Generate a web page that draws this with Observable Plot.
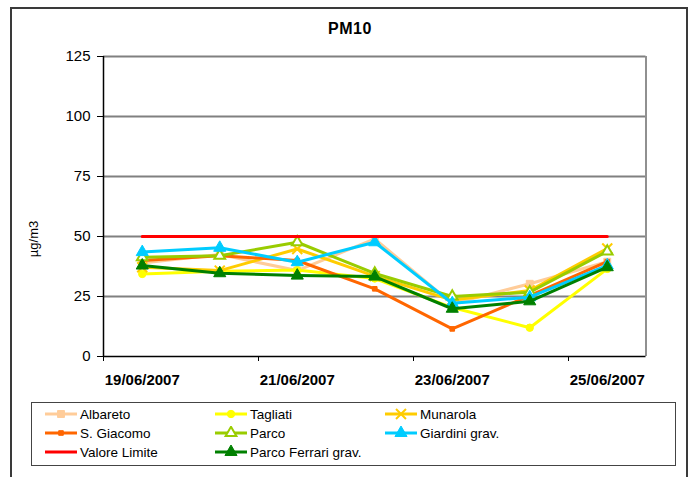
<!DOCTYPE html>
<html>
<head>
<meta charset="utf-8">
<script src="https://cdn.jsdelivr.net/npm/d3@7"></script>
<script src="https://cdn.jsdelivr.net/npm/@observablehq/plot@0.6"></script>
<style>
  html, body { margin: 0; padding: 0; background: #fff; }
  body { width: 689px; height: 477px; position: relative; overflow: hidden; font-family: "Liberation Sans", Arial, sans-serif; }
  #frame { position: absolute; left: 10px; top: 7px; width: 674px; height: 480px; border: 2px solid #3a3a3a; box-sizing: content-box; }
  #chart { position: absolute; left: 0; top: 0; }
  #title { position: absolute; left: 250px; width: 200px; top: 20px; text-align: center; font-weight: bold; font-size: 16px; letter-spacing: 0.5px; }
  #ylabel { position: absolute; left: 33px; top: 239px; transform: translate(-50%, -50%) rotate(-90deg); font-size: 13px; white-space: nowrap; }
  #legend { position: absolute; left: 31px; top: 402px; width: 645px; height: 64px; border: 1px solid #444; box-sizing: border-box; }
  .item { position: absolute; display: flex; align-items: center; font-size: 13.5px; white-space: nowrap; height: 18px; }
  .item svg { margin-right: 2px; }
</style>
</head>
<body>
<div id="frame"></div>
<div id="chart"></div>
<div id="title">PM10</div>
<div id="ylabel">µg/m3</div>
<div id="legend"></div>
<script>
// ---- data ----
const dates = ["19/06/2007", "20/06/2007", "21/06/2007", "22/06/2007", "23/06/2007", "24/06/2007", "25/06/2007"];
const labelledDates = ["19/06/2007", "21/06/2007", "23/06/2007", "25/06/2007"];
const yTicks = [0, 25, 50, 75, 100, 125];

const albareto     = [39.0, 42.5, 35.8, 49.0, 22.0, 30.3, 39.5];
const tagliati     = [34.4, 35.5, 36.0, 32.5, 20.4, 12.0, 36.5];
const munarola     = [37.2, 35.8, 44.8, 33.5, 23.5, 27.5, 45.0];
const sGiacomo     = [40.0, 42.0, 40.0, 28.2, 11.5, 25.4, 39.5];
const parco        = [41.4, 42.0, 47.6, 34.6, 25.0, 26.8, 43.8];
const giardini     = [43.5, 45.3, 39.3, 47.6, 22.2, 24.7, 38.0];
const valoreLimite = [50, 50, 50, 50, 50, 50, 50];
const parcoFerrari = [37.9, 34.7, 33.7, 33.3, 19.9, 23.0, 37.2];

const seriesNames = ["Albareto", "Tagliati", "Munarola", "S. Giacomo", "Parco", "Giardini grav.", "Valore Limite", "Parco Ferrari grav."];
const seriesValues = [albareto, tagliati, munarola, sGiacomo, parco, giardini, valoreLimite, parcoFerrari];

// ---- styles ----
const styles = {
  "Albareto":            {color: "#FFCC99", symbol: "square",   r: 3.9, fill: true},
  "Tagliati":            {color: "#FFFF00", symbol: "circle",   r: 3.7, fill: true},
  "Munarola":            {color: "#FFCC00", symbol: "times",    r: 4.6, fill: false},
  "S. Giacomo":          {color: "#FF6600", symbol: "square",   r: 2.6, fill: true},
  "Parco":               {color: "#99CC00", symbol: "triangle", r: 4.0, fill: false},
  "Giardini grav.":      {color: "#00CCFF", symbol: "triangle", r: 4.5, fill: true},
  "Valore Limite":       {color: "#FF0000", symbol: null},
  "Parco Ferrari grav.": {color: "#008000", symbol: "triangle", r: 4.5, fill: true}
};

const rows = [];
seriesNames.forEach((name, s) => {
  seriesValues[s].forEach((v, i) => rows.push({series: name, date: dates[i], idx: i + 0.5, value: v}));
});

const marks = [
  Plot.ruleY([25, 50, 75, 100, 125], {stroke: "#808080", strokeWidth: 2}),
  Plot.ruleX([dates.length], {y1: 0, y2: 125, stroke: "#909090", strokeWidth: 2}),
  Plot.ruleY([0], {stroke: "#000", strokeWidth: 1.5}),
  Plot.ruleX([0], {y1: 0, y2: 125, stroke: "#000", strokeWidth: 1.5})
];

seriesNames.forEach((name) => {
  const st = styles[name];
  const data = rows.filter(d => d.series === name);
  marks.push(Plot.line(data, {x: "idx", y: "value", stroke: st.color, strokeWidth: 3}));
  if (st.symbol) {
    marks.push(Plot.dot(data, {
      x: "idx", y: "value", symbol: () => st.symbol, r: st.r,
      fill: st.symbol === "times" ? "none" : (st.fill ? st.color : "white"),
      stroke: st.color, strokeWidth: st.fill && st.symbol !== "times" ? 1 : 2
    }));
  }
});

marks.push(Plot.text(labelledDates, {
  x: d => dates.indexOf(d) + 0.5, y: 0, text: d => d, dy: 24,
  fontWeight: "bold", fontSize: 15, fill: "#000"
}));

const chart = Plot.plot({
  width: 689,
  height: 400,
  marginLeft: 103,
  marginRight: 43.5,
  marginTop: 56,
  marginBottom: 44,
  style: {fontFamily: "'Liberation Sans', Arial, sans-serif", fontSize: "15px", color: "#000", background: "transparent", overflow: "visible"},
  x: {type: "linear", domain: [0, dates.length], ticks: [0, 2, 4, 6], tickSize: 5, tickFormat: () => "", label: null},
  y: {domain: [0, 125], ticks: yTicks, tickSize: 6, tickPadding: 7, label: null},
  marks
});
document.getElementById("chart").appendChild(chart);

// ---- legend ----
const legend = document.getElementById("legend");
const colX = [12, 182, 352];
const rowY = [2, 21, 40];
seriesNames.forEach((name, k) => {
  const st = styles[name];
  const item = document.createElement("div");
  item.className = "item";
  item.style.left = colX[k % 3] + "px";
  item.style.top = rowY[Math.floor(k / 3)] + "px";
  const svg = d3.create("svg").attr("width", 34).attr("height", 14);
  svg.append("line").attr("x1", 1).attr("x2", 33).attr("y1", 7).attr("y2", 7).attr("stroke", st.color).attr("stroke-width", 3);
  if (st.symbol) {
    const sym = {square: d3.symbolSquare, circle: d3.symbolCircle, times: d3.symbolTimes, triangle: d3.symbolTriangle}[st.symbol];
    svg.append("path").attr("transform", "translate(17,7)")
      .attr("d", d3.symbol(sym, Math.PI * st.r * st.r)())
      .attr("fill", st.symbol === "times" ? "none" : (st.fill ? st.color : "white"))
      .attr("stroke", st.color).attr("stroke-width", st.fill && st.symbol !== "times" ? 1 : 2);
  }
  item.appendChild(svg.node());
  const span = document.createElement("span");
  span.textContent = name;
  item.appendChild(span);
  legend.appendChild(item);
});
</script>
</body>
</html>
